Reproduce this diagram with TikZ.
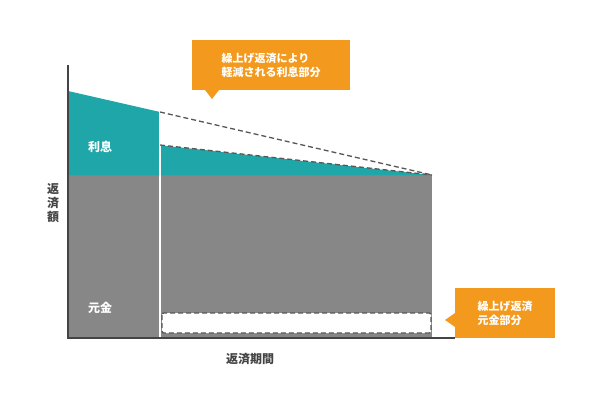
\documentclass[tikz,border=0pt]{standalone}
\usepackage{fontspec}
\setmainfont{Noto Sans CJK JP}
\definecolor{teal1}{HTML}{1FA6A8}
\definecolor{gray1}{HTML}{878787}
\definecolor{org}{HTML}{F39A1E}
\definecolor{axisc}{HTML}{444444}
\begin{document}
\begin{tikzpicture}[x=1pt,y=-1pt,
  lbl/.style={font=\fontsize{12}{14}\selectfont\bfseries},
  call/.style={font=\fontsize{11}{14}\selectfont\bfseries,text=white,align=left},
  dsh/.style={draw=axisc!90,dashed,dash pattern=on 5pt off 3pt,line width=1.3pt}]
\useasboundingbox (0,0) rectangle (600,412);
\fill[gray1] (68,175) rectangle (432,338);
\fill[teal1] (68,91) -- (160,112) -- (160,145) -- (432,175) -- (68,175) -- cycle;
\fill[white] (160,112) -- (432,175) -- (160,145) -- cycle;
\draw[white,line width=1.2pt] (160,112) -- (160,338);
\draw[dsh] (160,112) -- (432,175);
\draw[dsh] (160,145) -- (432,175);
\draw[dsh,fill=white,rounded corners=2pt] (162,313) rectangle (431,333);
\draw[axisc,line width=1.3pt] (68,65) -- (68,338) -- (455,338);
\node[lbl,text=white] (ri) at (100,147) {利息};
\node[lbl,text=white] (gk) at (100,308) {元金};
\node[lbl,align=center,inner sep=0pt,text=axisc] (y) at (53,203) {返\\済\\額};
\node[lbl,text=axisc] (x) at (250,359) {返済期間};
\fill[org] (192,40) rectangle (350,90);
\fill[org] (205,90) -- (212,99) -- (219,90) -- cycle;
\node[call] (c1) at (271,65) {繰上げ返済により\\軽減される利息部分};
\fill[org] (455,288) rectangle (555,338);
\fill[org] (455,313) -- (445,320) -- (455,327) -- cycle;
\node[call] (c2) at (505,313) {繰上げ返済\\元金部分};
\end{tikzpicture}
\end{document}
